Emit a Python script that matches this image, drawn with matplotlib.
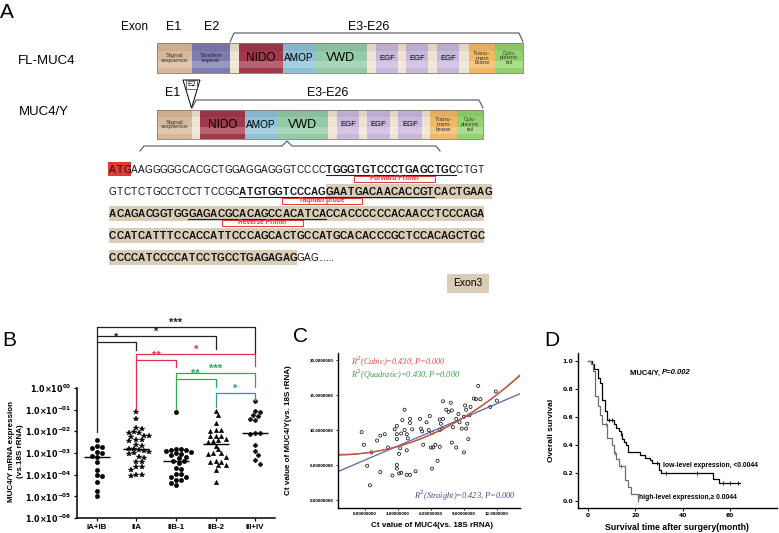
import matplotlib
matplotlib.use("Agg")
import matplotlib.pyplot as plt
import numpy as np
from matplotlib.patches import Rectangle, Polygon

W, H = 779, 533
SANS = ["Liberation Sans", "DejaVu Sans"]
NARROW = ["Liberation Sans Narrow", "Liberation Sans", "DejaVu Sans"]
SERIF = ["Liberation Serif", "DejaVu Serif"]

# ---------------- panel A data ----------------
fl_domains = ["signal", "tandem", "gap", "NIDO", "AMOP", "VWD", "gap", "EGF",
              "gap", "EGF", "gap", "EGF", "gap", "trans", "cyto"]
fl_widths = [35, 38, 9, 44, 32, 52, 9, 22, 8, 22, 9, 22, 10, 26, 28]
y_domains = ["signal", "gap", "NIDO", "AMOP", "VWD", "gap", "EGF", "gap",
             "EGF", "gap", "EGF", "gap", "trans", "cyto"]
y_widths = [35, 8, 45, 32, 51, 9, 22, 8, 23, 8, 24, 8, 27, 26]

# flags: r = red start codon, b = bold, u = underlined, h = exon3 shading
seq_lines = [
    [("ATG", "r"), ("AAGGGGGCACGCTGGAGGAGGGTCCCC", ""),
     ("TGGGTGTCCCTGAGCTGC", "bu"), ("CTGT", "")],
    [("GTCTCTGCCTCCTTCCGC", ""), ("ATGTGGTCCCAG", "bu"),
     ("GAATGACAACACCGT", "buh"), ("CACTGAAG", "bh")],
    [("ACAGACGGTGG", "bh"), ("GAGACGCACAGCCACATCA", "buh"),
     ("CCACCCCCCACAACCTCCCAGA", "bh")],
    [("CCATCATTTCCACCATTCCCAGCACTGCCATGCACACCCGCTCCACAGCTGC", "bh")],
    [("CCCCATCCCCATCCTGCCTGAGAGAG", "bh"), ("GAG", "")],
]
primer_names = ["Forward Primer", "Taqman probe", "Reverse Primer"]
primer_lines = [0, 1, 2]
primer_start = [34.0, 24.0, 15.6]
primer_end = [45.2, 35.0, 26.9]

# ---------------- panel B data (log10 expression) ----------------
stages = ["IA+IB", "IIA", "IIB-1", "IIB-2", "III+IV"]
ia_ib = [-2.41, -2.70, -2.74, -2.76, -2.98, -3.02, -3.12, -3.20, -3.42, -3.79,
         -4.02, -4.05, -4.33, -4.76, -4.99]
iia = [-1.10, -1.45, -1.87, -1.90, -2.05, -2.07, -2.10, -2.20, -2.22, -2.25,
       -2.40, -2.42, -2.45, -2.62, -2.66, -2.80, -2.83, -2.86, -2.90, -2.95,
       -3.02, -3.05, -3.18, -3.22, -3.40, -3.42, -3.63, -3.66, -3.79, -4.00,
       -4.02, -4.05]
iib1 = [-1.10, -2.80, -2.82, -2.86, -2.88, -2.90, -2.95, -3.02, -3.04, -3.08,
        -3.20, -3.22, -3.36, -3.38, -3.48, -3.71, -3.73, -3.95, -3.97, -4.10,
        -4.12, -4.25, -4.27, -4.40, -4.48]
iib2 = [-1.07, -1.25, -1.64, -1.94, -1.96, -1.98, -2.20, -2.22, -2.24, -2.34,
        -2.41, -2.43, -2.50, -2.66, -2.84, -3.00, -3.02, -3.04, -3.17, -3.38,
        -3.40, -3.42, -3.56, -3.58, -3.79, -4.33]
iii_iv = [-0.60, -1.05, -1.10, -1.25, -1.30, -1.45, -1.50, -2.10, -2.10, -2.14,
          -2.64, -2.89, -3.08, -3.33, -3.50]
stage_markers = ["o", "*", "o", "^", "P"]

# comparisons: group1, group2, bracket level, leg ends (log10), stars, colour
cmp_g1 = [0, 0, 0, 1, 1, 2, 2, 3]
cmp_g2 = [4, 3, 1, 4, 2, 4, 3, 4]
cmp_level = [2.80, 2.39, 2.11, 1.56, 1.28, 0.68, 0.41, -0.24]
cmp_end1 = [-2.04, 2.39, 2.11, -0.98, 1.28, -0.98, 0.41, -0.88]
cmp_end2 = [1.56, 1.79, 1.74, 1.00, 0.96, 0.04, 0.04, -0.56]
cmp_stars = ["***", "*", "*", "*", "**", "***", "**", "*"]
cmp_color = ["#222222", "#222222", "#222222", "#e2304a", "#e2304a",
             "#33a852", "#33a852", "#3f8f9c"]

# ---------------- panel C data ----------------
ct_muc4 = [-0.3, -0.1, 0.2, 0.45, 0.6, 1.1, 1.4, 1.8, 2.1,
           1.4, 2.5, 2.7, 2.9, 2.9, 2.9, 3.1, 3.2, 3.3,
           3.4, 3.6, 3.6, 3.8, 3.8, 3.9, 4.1, 4.1, 4.3,
           3.1, 3.3, 3.8, 4.1, 4.6, 5.0, 5.1, 5.2, 5.3,
           5.6, 5.8, 5.9, 6.1, 6.0, 6.2, 6.4, 6.1, 6.6,
           6.8, 6.9, 6.8, 7.0, 7.1, 6.8, 7.1, 7.4, 7.6,
           7.9, 7.8, 8.0, 7.9, 8.3, 8.3, 8.5, 8.6, 8.8,
           9.0, 9.1, 9.0, 9.2, 9.3, 9.2, 9.4, 9.5, 9.6,
           9.9, 10.1, 10.3, 10.5, 11.4, 11.9, 12.0, 2.9, 2.9]
ct_muc4y = [9.7, 7.9, 4.9, 2.1, 6.8, 8.5, 9.2, 9.4, 7.5,
            4.0, 3.5, 10.1, 10.6, 9.4, 8.7, 6.6, 7.4, 9.5,
            11.4, 12.9, 10.0, 7.1, 9.4, 8.8, 11.0, 11.6, 10.1,
            3.8, 3.9, 3.6, 3.6, 4.1, 11.6, 10.2, 9.8, 7.9,
            11.1, 10.0, 12.0, 9.6, 7.5, 7.5, 7.9, 4.5, 5.6,
            11.5, 10.9, 10.0, 10.2, 11.6, 7.6, 14.1, 12.9, 12.6,
            12.8, 13.9, 10.4, 8.2, 7.5, 11.6, 12.3, 11.1, 10.2,
            6.8, 13.5, 11.9, 12.9, 10.9, 10.2, 8.7, 12.1, 13.3,
            14.5, 14.4, 16.3, 14.4, 13.3, 15.5, 14.2, 4.5, 5.0]

# ---------------- panel D data ----------------
low_t = [0, 1.5, 2.5, 4, 5, 6, 7, 8, 11, 12, 13, 14, 14.5, 15, 16, 17, 22,
         24, 26, 27, 30, 31, 53, 55.5, 64.5]
low_s = [1.0, 0.98, 0.94, 0.88, 0.84, 0.72, 0.64, 0.58, 0.55, 0.52, 0.50,
         0.47, 0.44, 0.42, 0.40, 0.35, 0.33, 0.31, 0.29, 0.27, 0.22, 0.20,
         0.16, 0.13, 0.13]
low_cens = [9, 10, 14.2, 29, 33, 46, 57, 60, 63.5]
high_t = [0, 1, 2, 3, 4, 5, 6, 8, 10, 11, 12, 13, 15.5, 17, 18, 21]
high_s = [1.0, 0.98, 0.93, 0.75, 0.68, 0.61, 0.55, 0.45, 0.40, 0.34, 0.30,
          0.25, 0.15, 0.10, 0.05, 0.0]
high_cens = [7.5, 11.5, 14]


def px_axes(fig, left, top, right, bottom):
    return fig.add_axes([left / W, 1 - bottom / H, (right - left) / W,
                         (bottom - top) / H])


fig = plt.figure(figsize=(W / 100, H / 100), dpi=100)
ax = fig.add_axes([0, 0, 1, 1])
ax.set_xlim(0, W)
ax.set_ylim(H, 0)
ax.axis("off")

# ---------------- panel A ----------------
dom_style = {
    "signal": ("#d8b898", "Signal\nsequence", 4.6, "#3a3a3a", SANS),
    "tandem": ("#7d7cb0", "Tandem\nrepeat", 4.6, "#25253a", SANS),
    "gap": ("#efe4d2", "", 0, None, SANS),
    "NIDO": ("#a2384c", "NIDO", 8.5, "black", NARROW),
    "AMOP": ("#8fc1d9", "AMOP", 7.2, "black", NARROW),
    "VWD": ("#94caa8", "VWD", 9, "black", NARROW),
    "EGF": ("#c9b8dd", "EGF", 5.5, "black", SANS),
    "trans": ("#f3b865", "Trans-\nmem\nbrane", 4.4, "#3a3a3a", SANS),
    "cyto": ("#93d36e", "Cyto-\nplasmic\ntail", 4.0, "#3a3a3a", SANS),
}


def draw_bar(names, widths, x0, y0, h):
    x = x0
    for name, w in zip(names, widths):
        color, label, fs, tc, fam = dom_style[name]
        ax.add_patch(Rectangle((x, y0), w, h, facecolor=color, edgecolor="none"))
        ax.add_patch(Rectangle((x, y0), w, h * 0.25, facecolor="black",
                               alpha=0.06, edgecolor="none"))
        ax.add_patch(Rectangle((x, y0 + h * 0.6), w, h * 0.22, facecolor="white",
                               alpha=0.22, edgecolor="none"))
        if label:
            ax.text(x + w / 2, y0 + h / 2, label, ha="center", va="center",
                    fontsize=fs, color=tc, family=fam, linespacing=0.9)
        x += w
    ax.add_patch(Rectangle((x0, y0), x - x0, h, fill=False,
                           edgecolor="#8a7a6a", lw=0.6))
    return x


fl_end = draw_bar(fl_domains, fl_widths, 157, 43, 30)
y_end = draw_bar(y_domains, y_widths, 157, 110, 29)

ax.text(7, 12, "A", fontsize=15, ha="center", va="center", family=SANS)
ax.text(135, 27, "Exon", fontsize=8.5, ha="center", va="center", family=NARROW)
ax.text(174, 27, "E1", fontsize=9, ha="center", va="center", family=NARROW)
ax.text(212, 27, "E2", fontsize=9, ha="center", va="center", family=NARROW)
ax.text(369, 27, "E3-E26", fontsize=9, ha="center", va="center", family=NARROW)
ax.text(47, 61, "FL-MUC4", fontsize=9.5, ha="center", va="center", family=NARROW)
ax.text(44, 112, "MUC4/Y", fontsize=9.5, ha="center", va="center", family=NARROW)
ax.text(173, 93, "E1", fontsize=9, ha="center", va="center", family=NARROW)
ax.text(328, 93, "E3-E26", fontsize=9, ha="center", va="center", family=NARROW)

b0 = 157 + sum(fl_widths[:2])
ax.plot([b0, b0 + 4, fl_end - 4, fl_end], [42, 33, 33, 42], color="#555555", lw=0.8)
b1 = 157 + y_widths[0]
ax.plot([b1, b1 + 4, y_end - 4, y_end], [108, 100, 100, 108], color="#555555", lw=0.8)
ax.add_patch(Polygon([(183, 80), (200, 80), (191.5, 108)], closed=True,
                     facecolor="white", edgecolor="black", lw=0.7))
ax.text(191.5, 84.5, "E2", fontsize=5, ha="center", va="center", family=NARROW,
        bbox=dict(boxstyle="square,pad=0.1", fc="white", ec="black", lw=0.4))

ax.plot([140, 144, 282, 287, 292, 436, 440], [151, 146, 146, 141, 146, 146, 151],
        color="#555555", lw=0.8)

# sequence, one character per cell
pitch, x_seq = 7.22, 109
line_y = [169, 191, 213, 235, 257]
for li, segs in enumerate(seq_lines):
    cy = line_y[li]
    i = 0
    for text, flags in segs:
        n = len(text)
        xs = x_seq + i * pitch
        if "h" in flags:
            ax.add_patch(Rectangle((xs, cy - 7.5), n * pitch, 15,
                                   facecolor="#d9cdb8", edgecolor="none"))
        if "r" in flags:
            ax.add_patch(Rectangle((xs - 1, cy - 7), n * pitch + 1, 14,
                                   facecolor="#e03a35", edgecolor="none"))
        if "u" in flags:
            ax.plot([xs, xs + n * pitch], [cy + 6, cy + 6], color="#222222", lw=0.8)
        for k, ch in enumerate(text):
            ax.text(xs + (k + 0.5) * pitch, cy + 3.8, ch, ha="center",
                    va="baseline", fontsize=7.2, family=SANS,
                    fontweight="bold" if "b" in flags else "normal",
                    color="#111111")
        i += n
    if li == len(seq_lines) - 1:
        ax.text(x_seq + i * pitch, cy + 3.8, "......", ha="left", va="baseline",
                fontsize=7, family=SANS)

for name, li, c0, c1 in zip(primer_names, primer_lines, primer_start, primer_end):
    xa, xb = x_seq + c0 * pitch, x_seq + c1 * pitch
    yb = line_y[li] + 6.5
    ax.add_patch(Rectangle((xa, yb), xb - xa, 6, facecolor="white",
                           edgecolor="#e03a35", lw=0.7))
    ax.text((xa + xb) / 2, yb + 3.1, name, ha="center", va="center",
            fontsize=4.8, color="#e03a35", fontweight="bold", family=SANS)

ax.add_patch(Rectangle((447, 274), 42, 19, facecolor="#d9cdb8", edgecolor="none"))
ax.text(468, 283.5, "Exon3", ha="center", va="center", fontsize=7.5, family=NARROW)

ax.text(9, 340, "B", fontsize=15, ha="center", va="center", family=SANS)
ax.text(301, 336, "C", fontsize=15, ha="center", va="center", family=SANS)
ax.text(552, 340, "D", fontsize=15, ha="center", va="center", family=SANS)

# ---------------- panel B ----------------
axb = px_axes(fig, 77, 318, 275, 518)
axb.set_yscale("log")
axb.set_ylim(1e-6, 10 ** (-6 + 200 / 21.7))
axb.set_xlim(-0.5, 4.5)
groups = [ia_ib, iia, iib1, iib2, iii_iv]


def swarm(vals, sx=39.5, sy=21.7, d=4.6):
    order = np.argsort(vals)[::-1]
    placed = []
    offs = np.zeros(len(vals))
    cands = [0.0]
    for k in range(1, 12):
        cands += [k * 0.065, -k * 0.065]
    for idx in order:
        for c in cands:
            ok = True
            for v, o in placed:
                if np.hypot((c - o) * sx, (vals[idx] - v) * sy) < d:
                    ok = False
                    break
            if ok:
                break
        offs[idx] = c
        placed.append((vals[idx], c))
    return offs


for gi, (vals, mk) in enumerate(zip(groups, stage_markers)):
    v = np.array(vals)
    offs = swarm(v)
    ms = 4.2 if mk == "*" else 3.2
    axb.plot(gi + offs, 10 ** v, linestyle="none", marker=mk, ms=ms,
             color="black", mec="black", mew=0.3)
    axb.hlines(10 ** np.median(v), gi - 0.33, gi + 0.33, color="black", lw=1)

for g1, g2, lv, e1, e2, st, col in zip(cmp_g1, cmp_g2, cmp_level, cmp_end1,
                                       cmp_end2, cmp_stars, cmp_color):
    axb.plot([g1, g1, g2, g2], [10 ** e1, 10 ** lv, 10 ** lv, 10 ** e2],
             color=col, lw=0.9, clip_on=False)
    axb.text((g1 + g2) / 2, 10 ** (lv - 0.02), st, ha="center", va="bottom",
             fontsize=8, color=col, fontweight="bold", family=SANS)

axb.spines["top"].set_visible(False)
axb.spines["right"].set_visible(False)
axb.spines["left"].set_bounds(1e-6, 1)
for s in ("left", "bottom"):
    axb.spines[s].set_linewidth(1.1)
yt = [10.0 ** k for k in range(0, -7, -1)]
axb.set_yticks(yt)
axb.set_yticklabels([r"$\mathbf{1.0{\times}10^{%s0%d}}$" % ("-" if k else "", abs(k))
                     for k in range(0, -7, -1)], fontsize=5.8)
axb.yaxis.set_minor_locator(matplotlib.ticker.NullLocator())
axb.set_xticks(range(5))
axb.set_xticklabels(stages, fontsize=5.8, fontweight="bold", family=SANS)
axb.tick_params(length=2.5, width=0.9, pad=1.5)
axb.set_ylabel("MUC4/Y mRNA expression\n(vs.18S rRNA)", fontsize=5.8,
               fontweight="bold", family=SANS, linespacing=1.4)
axb.yaxis.set_label_coords(-0.27, 0.335)
axb.patch.set_alpha(0)

# ---------------- panel C ----------------
axc = px_axes(fig, 338, 353, 520, 508)
x = np.array(ct_muc4)
y = np.array(ct_muc4y)
axc.scatter(x, y, s=5, facecolors="none", edgecolors="black", linewidths=0.5)
xx = np.linspace(-2.45, 14.1, 200)
axc.plot(xx, np.polyval(np.polyfit(x, y, 1), xx), color="#5566a8", lw=0.9)
axc.plot(xx, np.polyval(np.polyfit(x, y, 2), xx), color="#3aa04a", lw=0.9)
axc.plot(xx, np.polyval(np.polyfit(x, y, 3), xx), color="#e04848", lw=0.9)
axc.set_xlim(-2.45, 14.1)
axc.set_ylim(-1.14, 21.0)
axc.set_xticks([0, 3, 6, 9, 12])
axc.set_yticks([0, 5, 10, 15, 20])
fmt = lambda v: f"{v:.8f}"[:10]
axc.set_xticklabels([fmt(v) for v in [0, 3, 6, 9, 12]], fontsize=2.6, fontweight="bold")
axc.set_yticklabels([fmt(v) for v in [0, 5, 10, 15, 20]], fontsize=2.6, fontweight="bold")
axc.tick_params(length=1.5, width=0.6, pad=1.5)
axc.spines["top"].set_visible(False)
axc.spines["right"].set_visible(False)
for s in ("left", "bottom"):
    axc.spines[s].set_linewidth(1.0)
axc.text(0.07, 0.945, r"R$^2$(Cubic)=0.430, P=0.000", transform=axc.transAxes,
         fontsize=6, color="#e04848", style="italic", family=SERIF, va="center")
axc.text(0.07, 0.86, r"R$^2$(Quadratic)=0.430, P=0.000", transform=axc.transAxes,
         fontsize=6, color="#3aa04a", style="italic", family=SERIF, va="center")
axc.text(0.98, 0.08, r"R$^2$(Straight)=0.423, P=0.000", transform=axc.transAxes,
         fontsize=6, color="#4a4a8e", style="italic", family=SERIF, va="center",
         ha="right")
axc.set_xlabel("Ct value of MUC4(vs. 18S rRNA)", fontsize=5.8, fontweight="bold",
               family=SANS)
axc.xaxis.set_label_coords(0.516, -0.09)
axc.set_ylabel("Ct value of MUC4/Y(vs. 18S rRNA)", fontsize=5.8, fontweight="bold",
               family=SANS)
axc.yaxis.set_label_coords(-0.25, 0.5)

# ---------------- panel D ----------------
axd = px_axes(fig, 578, 353, 777, 508)
axd.step(low_t, low_s, where="post", color="black", lw=0.9)
axd.step(high_t, high_s, where="post", color="#6e6e6e", lw=0.9)


def s_at(times, surv, t):
    return surv[np.searchsorted(times, t, side="right") - 1]


axd.plot(low_cens, [s_at(low_t, low_s, t) for t in low_cens], linestyle="none",
         marker="|", ms=3, mew=0.6, color="black")
axd.plot(high_cens, [s_at(high_t, high_s, t) for t in high_cens], linestyle="none",
         marker="|", ms=3, mew=0.6, color="#6e6e6e")
axd.set_xlim(-4.3, 80)
axd.set_ylim(-0.05, 1.055)
axd.set_xticks([0, 20, 40, 60])
axd.set_yticks([0, 0.2, 0.4, 0.6, 0.8, 1.0])
axd.set_xticklabels(["0", "20", "40", "60"], fontsize=4.3, fontweight="bold")
axd.set_yticklabels(["0.0", "0.2", "0.4", "0.6", "0.8", "1.0"], fontsize=4.3,
                    fontweight="bold")
axd.tick_params(length=2, width=0.7, pad=1.5)
axd.spines["top"].set_visible(False)
axd.spines["right"].set_visible(False)
for s in ("left", "bottom"):
    axd.spines[s].set_linewidth(1.0)
t1 = axd.text(0.26, 0.871, "MUC4/Y, ", transform=axd.transAxes, fontsize=5.5,
              fontweight="bold", family=SANS, va="center")
axd.annotate("P=0.002", xy=(1, 0), xycoords=t1, va="bottom", ha="left",
             fontsize=5.5, fontweight="bold", style="italic", family=SANS)
axd.text(31.9, 0.255, "low-level expression, <0.0044", fontsize=4.9,
         fontweight="bold", family=SANS, va="center")
axd.text(21.7, 0.026, "high-level expression,\u2265 0.0044", fontsize=4.9,
         fontweight="bold", family=SANS, va="center")
axd.set_ylabel("Overall survival", fontsize=6, fontweight="bold", family=SANS)
axd.yaxis.set_label_coords(-0.116, 0.5)
axd.set_xlabel("Survival time after surgery(month)", fontsize=6.3,
               fontweight="bold", family=SANS)
axd.xaxis.set_label_coords(0.497, -0.1)

fig.savefig("out.png", dpi=100)
